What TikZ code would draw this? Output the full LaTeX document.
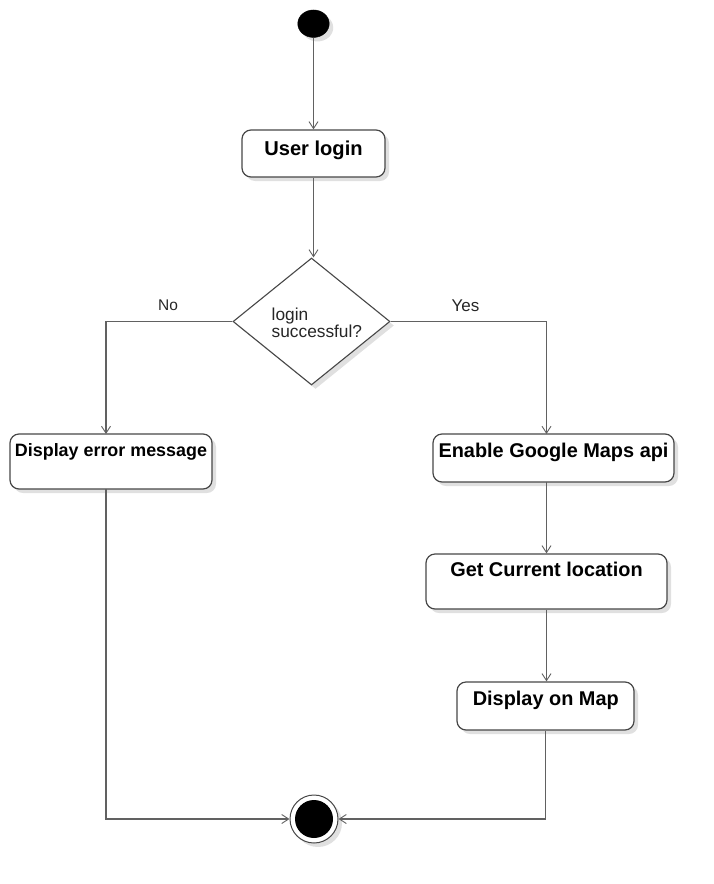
\documentclass[tikz,border=0pt]{standalone}
\usepackage{fontspec}
\setmainfont{Liberation Sans}
\usetikzlibrary{arrows.meta,shapes.geometric,shadows,calc}
\tikzset{
  conn/.style={draw=black!62, line width=1.1pt, -{Straight Barb[length=7pt,width=9pt,line width=0.9pt]}},
  shad/.style={drop shadow={shadow xshift=4pt,shadow yshift=-4pt,opacity=0.12,fill=black}},
  actbox/.style={draw=black!72, line width=1.2pt, rounded corners=9pt, fill=white, shad, inner sep=0pt},
  acttext/.style={anchor=base, inner sep=0pt, font=\bfseries},
  lbl/.style={anchor=base, inner sep=0pt, text=black!85},
}
\begin{document}
\begin{tikzpicture}[x=1pt,y=-1pt]
\useasboundingbox (0,0) rectangle (714,884);
% start
\node[ellipse, fill=black, draw=black, minimum width=31.5pt, minimum height=27.5pt, inner sep=0pt, shad] (start) at (313.5,23.7) {};
% user login
\node[actbox, minimum width=143pt, minimum height=47pt] (login) at (313.5,153.5) {};
\node[acttext, font=\bfseries\fontsize{20.1}{20.1}\selectfont] (logint) at (313.5,155) {User login};
% decision
\node[diamond, draw=black!72, line width=1.1pt, fill=white, minimum width=157pt, minimum height=127pt, inner sep=0pt, shad] (dec) at (311.5,321.5) {};
\node[anchor=base west, inner sep=0pt, align=left, font=\fontsize{17.3}{17.3}\selectfont, text=black!85] (dect) at (271.5,337.3) {login\\successful?};
% error
\node[actbox, minimum width=202pt, minimum height=55pt] (err) at (111,461.5) {};
\node[acttext, font=\bfseries\fontsize{17.9}{17.9}\selectfont] (errt) at (111,456) {Display error message};
% enable
\node[actbox, minimum width=241pt, minimum height=48pt] (enable) at (553.5,458) {};
\node[acttext, font=\bfseries\fontsize{19.9}{19.9}\selectfont] (enablet) at (553.5,457.7) {Enable Google Maps api};
% get
\node[actbox, minimum width=241pt, minimum height=55pt] (get) at (546.5,581.5) {};
\node[acttext, font=\bfseries\fontsize{19.9}{19.9}\selectfont] (gett) at (546.5,576.7) {Get Current location};
% map
\node[actbox, minimum width=177pt, minimum height=48pt] (map) at (545.5,706) {};
\node[acttext, font=\bfseries\fontsize{19.9}{19.9}\selectfont] (mapt) at (545.8,705) {Display on Map};
% end
\node[circle, draw=black!72, line width=1pt, fill=white, minimum size=48pt, inner sep=0pt, shad] (end) at (314,819) {};
\node[circle, fill=black, minimum size=38pt, inner sep=0pt] (endin) at (314,819) {};
% coordinates
\coordinate (errin) at (106,434);
\coordinate (errout) at (106,489);
\coordinate (enin) at (546.5,434);
\coordinate (enout) at (546.5,482);
% connectors
\draw[conn] (start.south) -- (login.north);
\draw[conn] (login.south) -- (login.south |- dec.north);
\draw[conn] (dec.west) -| (errin);
\draw[conn] (dec.east) -| (enin);
\draw[conn] (enout) -- (get.north);
\draw[conn] (get.south) -- (get.south |- map.north);
\draw[conn] (map.south) |- (end.east);
\draw[conn] (errout) |- (end.west);
% labels
\node[lbl, font=\fontsize{15.5}{15.5}\selectfont] (no) at (168,310.5) {No};
\node[lbl, font=\fontsize{17}{17}\selectfont] (yes) at (465.4,311.7) {Yes};
\end{tikzpicture}
\end{document}
